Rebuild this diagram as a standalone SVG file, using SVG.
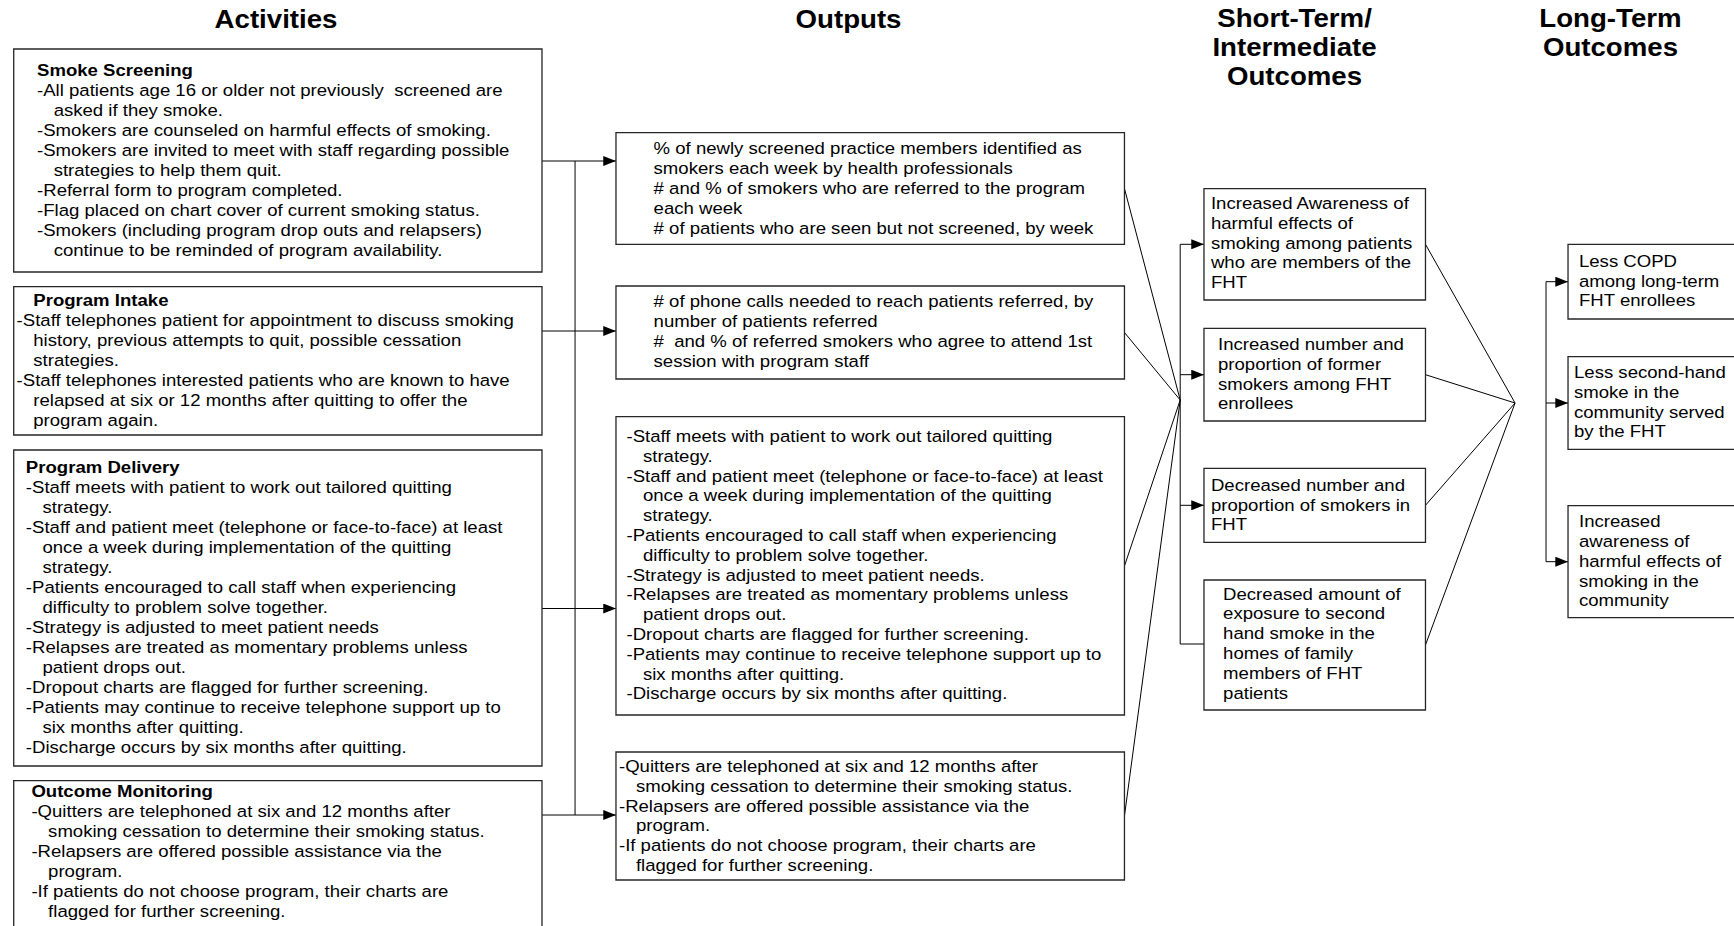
<svg xmlns="http://www.w3.org/2000/svg" width="1734" height="926" viewBox="0 0 1734 926">
  <defs>
    <marker id="arrow" markerWidth="11.5" markerHeight="10" refX="11.5" refY="5" orient="auto" markerUnits="userSpaceOnUse">
      <path d="M0,0 L11.5,5 L0,10 z" fill="#000"/>
    </marker>
  </defs>
  <style>
    .box { fill: #fff; stroke: #262626; stroke-width: 1.3; vector-effect: non-scaling-stroke; }
    .conn { fill: none; stroke: #000; stroke-width: 1; vector-effect: non-scaling-stroke; }
    .arr { marker-end: url(#arrow); }
    text { font-family: "Liberation Sans", Arial, sans-serif; font-size: 16.8px; fill: #000; }
    .hd { font-weight: bold; }
    .title { font-weight: bold; font-size: 25px; text-anchor: middle; }
  </style>
  <rect width="1734" height="926" fill="#fff"/>
  <!-- the layout is drawn in a horizontally widened space -->
  <g transform="scale(1.10588 1)">
    <!-- column headings -->
    <g id="headings">
      <text class="title" x="249.6" y="28">Activities</text>
      <text class="title" x="767.3" y="28">Outputs</text>
      <text class="title" x="1170.6" y="27">Short-Term/</text>
      <text class="title" x="1170.6" y="56">Intermediate</text>
      <text class="title" x="1170.6" y="85">Outcomes</text>
      <text class="title" x="1456.3" y="27">Long-Term</text>
      <text class="title" x="1456.3" y="56">Outcomes</text>
    </g>

    <!-- connectors -->
    <g id="connectors">
      <path class="conn" d="M520,161 V815"/>
      <path class="conn arr" d="M490.1,161 H557"/>
      <path class="conn arr" d="M490.1,331 H557"/>
      <path class="conn arr" d="M490.1,608.5 H557"/>
      <path class="conn arr" d="M490.1,815 H557"/>

      <path class="conn" d="M1016.8,188.5 L1067.2,400 M1016.8,332.5 L1067.2,400 M1016.8,566 L1067.2,400 M1016.8,816 L1067.2,400"/>
      <path class="conn" d="M1067.2,244.3 V644"/>
      <path class="conn arr" d="M1067.2,244.3 H1088.7"/>
      <path class="conn arr" d="M1067.2,374.7 H1088.7"/>
      <path class="conn arr" d="M1067.2,505.3 H1088.7"/>
      <path class="conn arr" d="M1067.2,644 H1104"/>

      <path class="conn" d="M1289,244.3 L1370,403 M1289,374.7 L1370,403 M1289,505.3 L1370,403 M1289,645 L1370,403"/>
      <path class="conn" d="M1398,281.7 V561.7"/>
      <path class="conn arr" d="M1398,281.7 H1417.9"/>
      <path class="conn arr" d="M1398,403 H1417.9"/>
      <path class="conn arr" d="M1398,561.7 H1417.9"/>
    </g>

    <!-- activities -->
    <g id="smoke-screening">
      <rect class="box" x="12.4" y="49" width="477.7" height="223"/>
      <text class="hd" x="33.5" y="76">Smoke Screening</text>
      <text x="33.5" y="96">-All patients age 16 or older not previously&#160; screened are</text>
      <text x="48.5" y="116">asked if they smoke.</text>
      <text x="33.5" y="136">-Smokers are counseled on harmful effects of smoking.</text>
      <text x="33.5" y="156">-Smokers are invited to meet with staff regarding possible</text>
      <text x="48.5" y="176">strategies to help them quit.</text>
      <text x="33.5" y="196">-Referral form to program completed.</text>
      <text x="33.5" y="216">-Flag placed on chart cover of current smoking status.</text>
      <text x="33.5" y="236">-Smokers (including program drop outs and relapsers)</text>
      <text x="48.5" y="256">continue to be reminded of program availability.</text>
    </g>

    <g id="program-intake">
      <rect class="box" x="12.4" y="286.7" width="477.7" height="148.3"/>
      <text class="hd" x="30.1" y="306">Program Intake</text>
      <text x="15" y="326">-Staff telephones patient for appointment to discuss smoking</text>
      <text x="30.1" y="346">history, previous attempts to quit, possible cessation</text>
      <text x="30.1" y="366">strategies.</text>
      <text x="15" y="386">-Staff telephones interested patients who are known to have</text>
      <text x="30.1" y="406">relapsed at six or 12 months after quitting to offer the</text>
      <text x="30.1" y="426">program again.</text>
    </g>

    <g id="program-delivery">
      <rect class="box" x="12.4" y="450" width="477.7" height="316"/>
      <text class="hd" x="23.4" y="473">Program Delivery</text>
      <text x="23.4" y="493">-Staff meets with patient to work out tailored quitting</text>
      <text x="38.4" y="513">strategy.</text>
      <text x="23.4" y="533">-Staff and patient meet (telephone or face-to-face) at least</text>
      <text x="38.4" y="553">once a week during implementation of the quitting</text>
      <text x="38.4" y="573">strategy.</text>
      <text x="23.4" y="593">-Patients encouraged to call staff when experiencing</text>
      <text x="38.4" y="613">difficulty to problem solve together.</text>
      <text x="23.4" y="633">-Strategy is adjusted to meet patient needs</text>
      <text x="23.4" y="653">-Relapses are treated as momentary problems unless</text>
      <text x="38.4" y="673">patient drops out.</text>
      <text x="23.4" y="693">-Dropout charts are flagged for further screening.</text>
      <text x="23.4" y="713">-Patients may continue to receive telephone support up to</text>
      <text x="38.4" y="733">six months after quitting.</text>
      <text x="23.4" y="753">-Discharge occurs by six months after quitting.</text>
    </g>

    <g id="outcome-monitoring">
      <rect class="box" x="12.4" y="780.7" width="477.7" height="160"/>
      <text class="hd" x="28.4" y="797">Outcome Monitoring</text>
      <text x="28.4" y="817">-Quitters are telephoned at six and 12 months after</text>
      <text x="43.5" y="837">smoking cessation to determine their smoking status.</text>
      <text x="28.4" y="857">-Relapsers are offered possible assistance via the</text>
      <text x="43.5" y="877">program.</text>
      <text x="28.4" y="897">-If patients do not choose program, their charts are</text>
      <text x="43.5" y="917">flagged for further screening.</text>
    </g>

    <!-- outputs -->
    <g id="output-screening">
      <rect class="box" x="557" y="132.7" width="459.8" height="111.6"/>
      <text x="591" y="154">% of newly screened practice members identified as</text>
      <text x="591" y="174">smokers each week by health professionals</text>
      <text x="591" y="194"># and % of smokers who are referred to the program</text>
      <text x="591" y="214">each week</text>
      <text x="591" y="234"># of patients who are seen but not screened, by week</text>
    </g>

    <g id="output-intake">
      <rect class="box" x="557" y="286" width="459.8" height="93"/>
      <text x="591" y="307"># of phone calls needed to reach patients referred, by</text>
      <text x="591" y="327">number of patients referred</text>
      <text x="591" y="347">#&#160; and % of referred smokers who agree to attend 1st</text>
      <text x="591" y="367">session with program staff</text>
    </g>

    <g id="output-delivery">
      <rect class="box" x="557" y="416.7" width="459.8" height="298.3"/>
      <text x="566.5" y="442">-Staff meets with patient to work out tailored quitting</text>
      <text x="581.4" y="461.8">strategy.</text>
      <text x="566.5" y="481.6">-Staff and patient meet (telephone or face-to-face) at least</text>
      <text x="581.4" y="501.4">once a week during implementation of the quitting</text>
      <text x="581.4" y="521.2">strategy.</text>
      <text x="566.5" y="541">-Patients encouraged to call staff when experiencing</text>
      <text x="581.4" y="560.8">difficulty to problem solve together.</text>
      <text x="566.5" y="580.6">-Strategy is adjusted to meet patient needs.</text>
      <text x="566.5" y="600.4">-Relapses are treated as momentary problems unless</text>
      <text x="581.4" y="620.2">patient drops out.</text>
      <text x="566.5" y="640">-Dropout charts are flagged for further screening.</text>
      <text x="566.5" y="659.8">-Patients may continue to receive telephone support up to</text>
      <text x="581.4" y="679.6">six months after quitting.</text>
      <text x="566.5" y="699.4">-Discharge occurs by six months after quitting.</text>
    </g>

    <g id="output-monitoring">
      <rect class="box" x="557" y="752" width="459.8" height="128"/>
      <text x="559.7" y="772">-Quitters are telephoned at six and 12 months after</text>
      <text x="575" y="791.8">smoking cessation to determine their smoking status.</text>
      <text x="559.7" y="811.6">-Relapsers are offered possible assistance via the</text>
      <text x="575" y="831.4">program.</text>
      <text x="559.7" y="851.2">-If patients do not choose program, their charts are</text>
      <text x="575" y="871">flagged for further screening.</text>
    </g>

    <!-- short-term / intermediate outcomes -->
    <g id="st-awareness">
      <rect class="box" x="1088.7" y="188.7" width="200.3" height="111.3"/>
      <text x="1095" y="209">Increased Awareness of</text>
      <text x="1095" y="229">harmful effects of</text>
      <text x="1095" y="249">smoking among patients</text>
      <text x="1095" y="268.5">who are members of the</text>
      <text x="1095" y="288">FHT</text>
    </g>

    <g id="st-former-smokers">
      <rect class="box" x="1088.7" y="328.3" width="200.3" height="92.7"/>
      <text x="1101.4" y="350">Increased number and</text>
      <text x="1101.4" y="370">proportion of former</text>
      <text x="1101.4" y="390">smokers among FHT</text>
      <text x="1101.4" y="409.5">enrollees</text>
    </g>

    <g id="st-smokers">
      <rect class="box" x="1088.7" y="468.3" width="200.3" height="74"/>
      <text x="1095" y="491">Decreased number and</text>
      <text x="1095" y="511">proportion of smokers in</text>
      <text x="1095" y="530">FHT</text>
    </g>

    <g id="st-exposure">
      <rect class="box" x="1088.7" y="580" width="200.3" height="130"/>
      <text x="1106" y="600">Decreased amount of</text>
      <text x="1106" y="619.5">exposure to second</text>
      <text x="1106" y="639.5">hand smoke in the</text>
      <text x="1106" y="659.5">homes of family</text>
      <text x="1106" y="679.5">members of FHT</text>
      <text x="1106" y="699.5">patients</text>
    </g>

    <!-- long-term outcomes -->
    <g id="lt-copd">
      <rect class="box" x="1417.9" y="244.3" width="200" height="74.7"/>
      <text x="1427.8" y="267">Less COPD</text>
      <text x="1427.8" y="287">among long-term</text>
      <text x="1427.8" y="306">FHT enrollees</text>
    </g>

    <g id="lt-second-hand">
      <rect class="box" x="1417.9" y="356.7" width="200" height="92.6"/>
      <text x="1423.3" y="378">Less second-hand</text>
      <text x="1423.3" y="398">smoke in the</text>
      <text x="1423.3" y="418">community served</text>
      <text x="1423.3" y="437.5">by the FHT</text>
    </g>

    <g id="lt-community-awareness">
      <rect class="box" x="1417.9" y="505.7" width="200" height="112"/>
      <text x="1427.8" y="527">Increased</text>
      <text x="1427.8" y="547">awareness of</text>
      <text x="1427.8" y="567">harmful effects of</text>
      <text x="1427.8" y="587">smoking in the</text>
      <text x="1427.8" y="606.5">community</text>
    </g>
  </g>
</svg>
